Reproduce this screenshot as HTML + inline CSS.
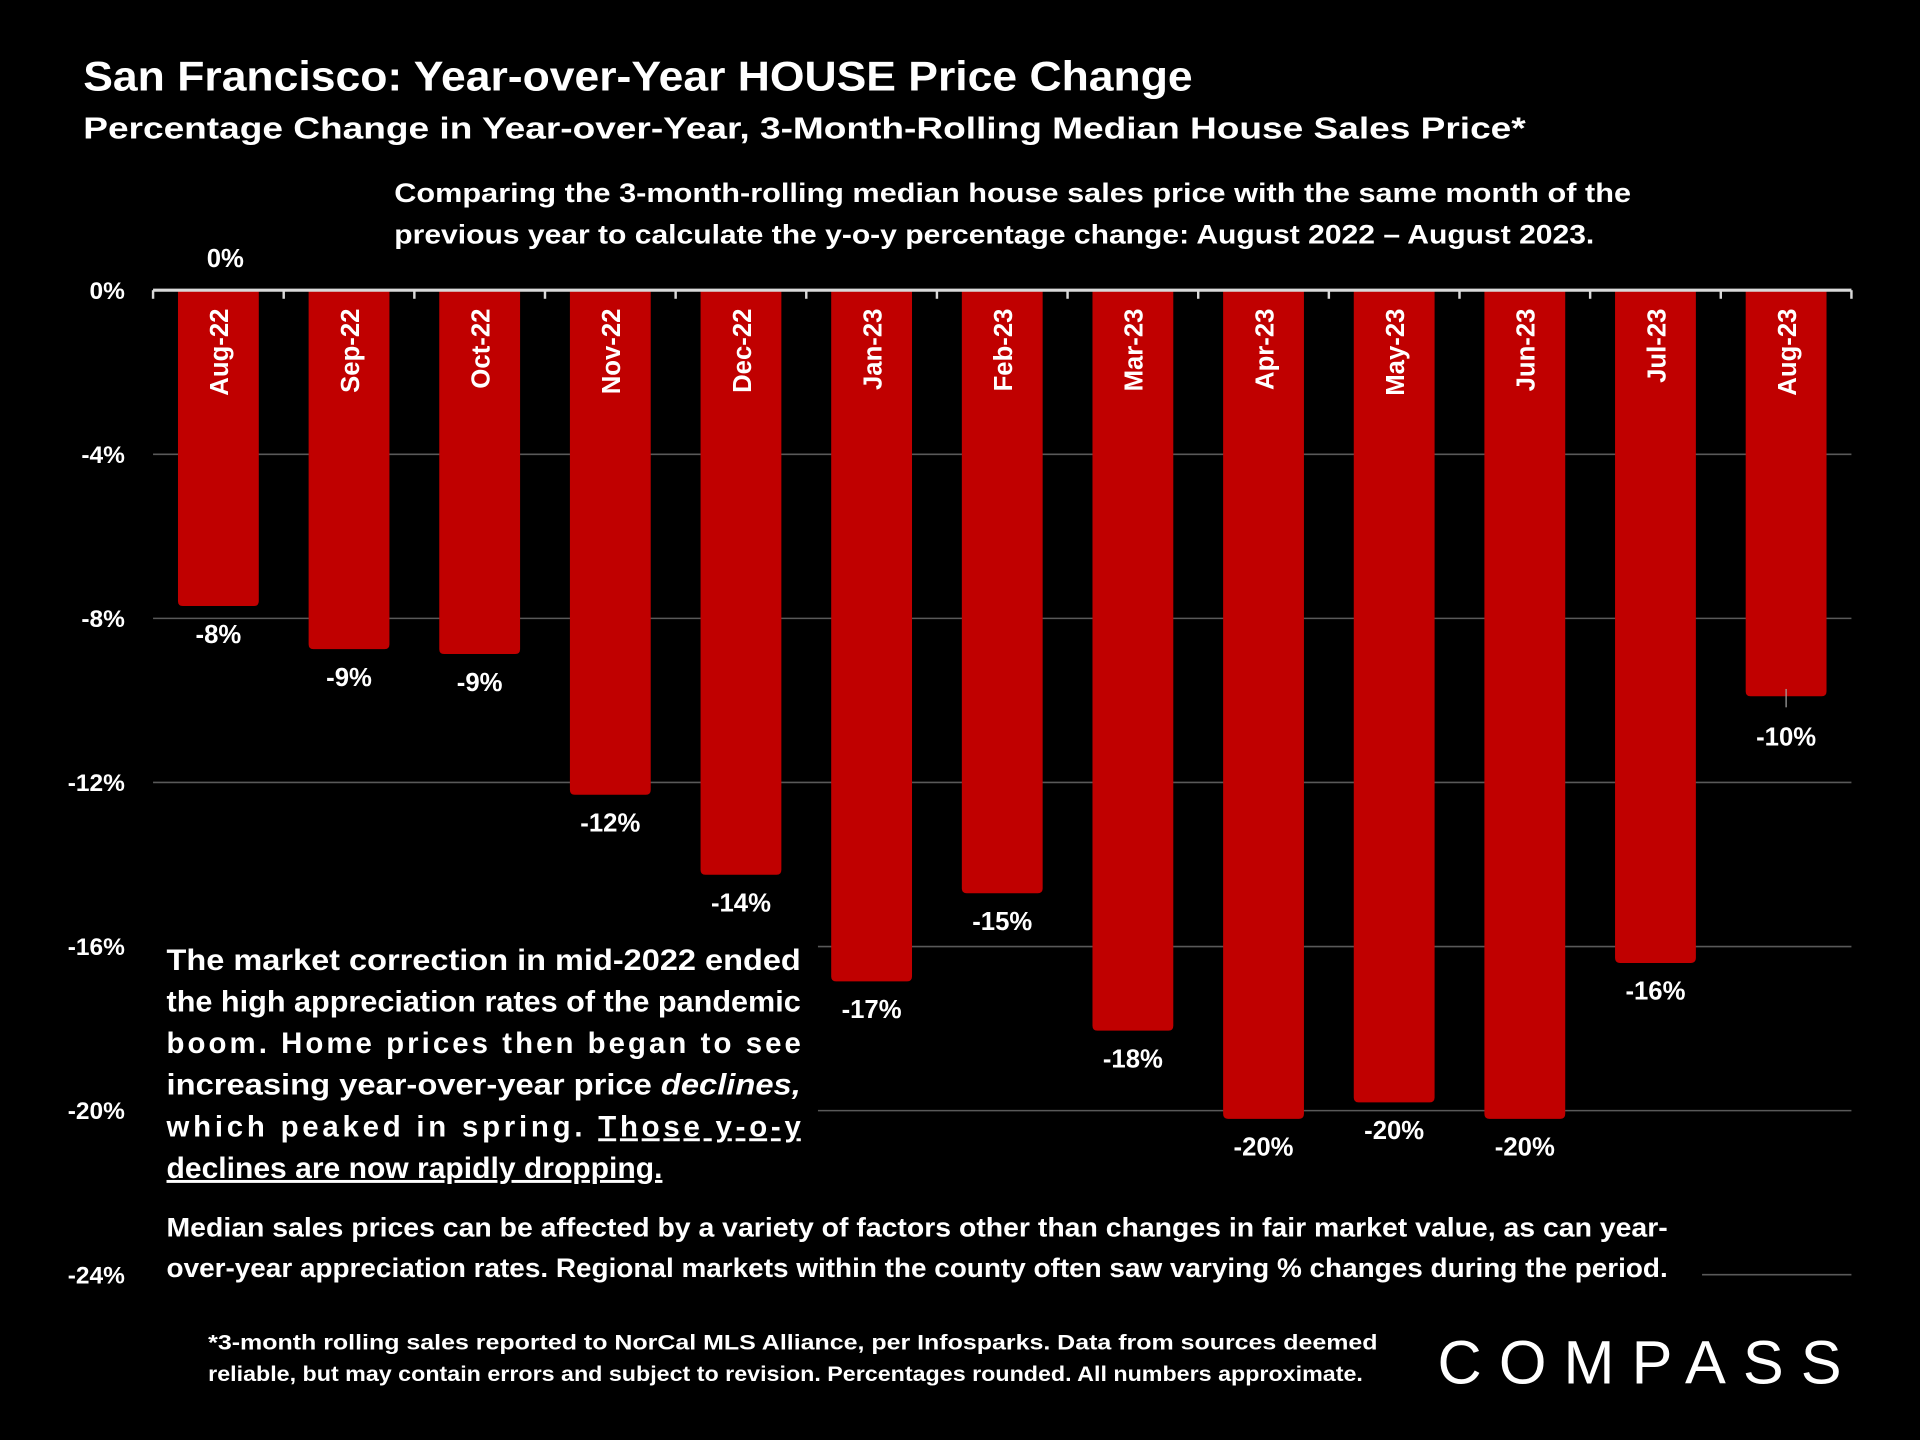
<!DOCTYPE html>
<html><head><meta charset="utf-8"><style>
html,body{margin:0;padding:0;background:#000;width:1920px;height:1440px;overflow:hidden}
svg{display:block}
text{font-family:"Liberation Sans",sans-serif;fill:#fff}
</style></head><body>
<svg id="chart" width="1920" height="1440" viewBox="0 0 1568 1176" xmlns="http://www.w3.org/2000/svg">
<rect width="1568" height="1176" fill="#000"/>
<text x="68" y="74" font-size="34" font-weight="bold" textLength="906" lengthAdjust="spacingAndGlyphs">San Francisco: Year-over-Year HOUSE Price Change</text>
<text x="68" y="113" font-size="25" font-weight="bold" textLength="1178" lengthAdjust="spacingAndGlyphs">Percentage Change in Year-over-Year, 3-Month-Rolling Median House Sales Price*</text>
<text x="322" y="165" font-size="22" font-weight="bold" textLength="1010" lengthAdjust="spacingAndGlyphs">Comparing the 3-month-rolling median house sales price with the same month of the</text>
<text x="322" y="199" font-size="22" font-weight="bold" textLength="980" lengthAdjust="spacingAndGlyphs">previous year to calculate the y-o-y percentage change: August 2022 – August 2023.</text>
<g id="grid"></g>
<g id="bars"></g>
<g id="axis"></g>
<text x="184" y="218" font-size="21" font-weight="bold" text-anchor="middle">0%</text>
<rect x="122" y="760" width="546" height="215" fill="#000"/>
<g font-size="24" font-weight="bold">
<text x="136" y="792" textLength="518" lengthAdjust="spacingAndGlyphs">The market correction in mid-2022 ended</text>
<text x="136" y="826" textLength="518" lengthAdjust="spacingAndGlyphs">the high appreciation rates of the pandemic</text>
<text x="136" y="860" textLength="518" lengthAdjust="spacing">boom.  Home prices then began to see</text>
<text x="136" y="894" textLength="518" lengthAdjust="spacingAndGlyphs">increasing year-over-year price <tspan font-style="italic">declines,</tspan></text>
<text x="136" y="928" textLength="518" lengthAdjust="spacing">which peaked in spring. <tspan text-decoration="underline">Those y-o-y</tspan></text>
<text x="136" y="962" text-decoration="underline" textLength="405" lengthAdjust="spacingAndGlyphs">declines are now rapidly dropping.</text>
</g>
<rect x="122" y="980" width="1268" height="75" fill="#000"/>
<text x="136" y="1010" font-size="22" font-weight="bold" textLength="1226" lengthAdjust="spacingAndGlyphs">Median sales prices can be affected by a variety of factors other than changes in fair market value, as can year-</text>
<text x="136" y="1043" font-size="22" font-weight="bold" textLength="1226" lengthAdjust="spacingAndGlyphs">over-year appreciation rates. Regional markets within the county often saw varying % changes during the period.</text>
<text x="170" y="1102" font-size="17" font-weight="bold" textLength="955" lengthAdjust="spacingAndGlyphs">*3-month rolling sales reported to NorCal MLS Alliance, per Infosparks. Data from sources deemed</text>
<text x="170" y="1128" font-size="17" font-weight="bold" textLength="943" lengthAdjust="spacingAndGlyphs">reliable, but may contain errors and subject to revision. Percentages rounded. All numbers approximate.</text>
<text x="1174" y="1130" font-size="50" textLength="330" lengthAdjust="spacing">COMPASS</text>
</svg>
<script>
const categories=["Aug-22","Sep-22","Oct-22","Nov-22","Dec-22","Jan-23","Feb-23","Mar-23","Apr-23","May-23","Jun-23","Jul-23","Aug-23"];
const values=[-7.7,-8.75,-8.87,-12.3,-14.25,-16.85,-14.7,-18.05,-20.2,-19.8,-20.2,-16.4,-9.9];
const valueLabels=["-8%","-9%","-9%","-12%","-14%","-17%","-15%","-18%","-20%","-20%","-20%","-16%","-10%"];
const yTicks=[0,-4,-8,-12,-16,-20,-24];
const yTickLabels=["0%","-4%","-8%","-12%","-16%","-20%","-24%"];
const NS="http://www.w3.org/2000/svg";
const X0=125,X1=1512,Y0=237,PER=33.5;
const bw=(X1-X0)/categories.length;
function y(v){return Y0-v*PER;}
function xc(i){return X0+bw*(i+0.5);}
function mk(tag,attrs,parent){const e=document.createElementNS(NS,tag);for(const k in attrs)e.setAttribute(k,attrs[k]);parent.appendChild(e);return e;}
const grid=document.getElementById('grid'),bars=document.getElementById('bars'),axis=document.getElementById('axis');
yTicks.forEach((t,i)=>{
  if(t!==0){const l=mk('line',{x1:X0,x2:X1,y1:y(t),y2:y(t),stroke:'#595959','stroke-width':1.3},grid);
  
  }
  const tx=mk('text',{x:102,y:y(t)+7,'font-size':20,'font-weight':'bold','text-anchor':'end'},grid);
  tx.textContent=yTickLabels[i];
  
  
});
categories.forEach((c,i)=>{
  const cx=xc(i),w=66,top=Y0,bot=y(values[i]),r=4;
  const p=mk('path',{d:`M${cx-w/2},${top} H${cx+w/2} V${bot-r} Q${cx+w/2},${bot} ${cx+w/2-r},${bot} H${cx-w/2+r} Q${cx-w/2},${bot} ${cx-w/2},${bot-r} Z`,fill:'#c00000'},bars);
  
  
  const ct=mk('text',{transform:`translate(${cx+8},252) rotate(-90)`,'font-size':21,'font-weight':'bold','text-anchor':'end'},bars);
  ct.textContent=c;
  
  
  let ly=bot+30;
  if(i===categories.length-1){ly=bot+40;
    const ll=mk('line',{x1:cx,x2:cx,y1:bot-6,y2:bot+9,stroke:'#a6a6a6','stroke-width':1},bars);
    
    }
  const vt=mk('text',{x:cx,y:ly,'font-size':21,'font-weight':'bold','text-anchor':'middle'},bars);
  vt.textContent=valueLabels[i];
  
  
});
const al=mk('line',{x1:X0,x2:X1,y1:Y0,y2:Y0,stroke:'#d9d9d9','stroke-width':2.5},axis);


for(let i=0;i<=categories.length;i++){
  const tk=mk('line',{x1:X0+bw*i,x2:X0+bw*i,y1:Y0,y2:Y0+7,stroke:'#d9d9d9','stroke-width':2},axis);
  
  
}
</script>
</body></html>
